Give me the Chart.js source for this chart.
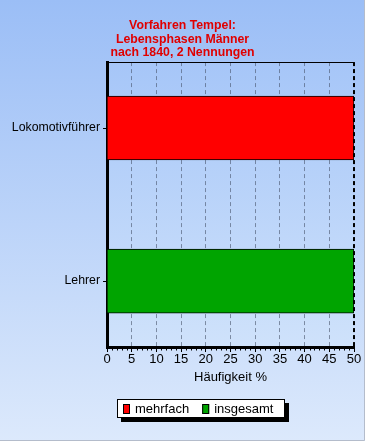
<!DOCTYPE html>
<html><head><meta charset="utf-8">
<script src="https://cdn.jsdelivr.net/npm/chart.js@4.4.0/dist/chart.umd.min.js"></script>
<style>html,body{margin:0;padding:0;overflow:hidden;background:#fff}#wrap{width:365px;height:441px;position:relative}</style>
</head><body><div id="wrap"><canvas id="c" width="365" height="441"></canvas></div>
<script>
const titleLines = ['Vorfahren Tempel:', 'Lebensphasen Männer', 'nach 1840, 2 Nennungen'];
const categories = ['Lokomotivführer', 'Lehrer'];
const seriesNames = ['mehrfach', 'insgesamt'];
const mehrfach = [50, null];
const insgesamt = [null, 50];
const xMin = 0, xMax = 50, xStep = 5;
const xTitle = 'Häufigkeit %';
const seriesColors = ['#ff0000', '#00a400'];

const FONT = "'Liberation Sans', Arial, sans-serif";

function toPoints(vals){
  return vals.map((v,i)=>({x:v, y:i})).filter(p=>p.x!==null);
}

const bgPlugin = {
  id:'bg',
  beforeDraw(chart){
    const {ctx, width, height} = chart;
    ctx.save();
    const g = ctx.createLinearGradient(0,0,0,height);
    g.addColorStop(0,'#9bbef6');
    g.addColorStop(1,'#dce9fc');
    ctx.fillStyle = g;
    ctx.fillRect(0,0,width,height);
    const a = chart.chartArea;
    const g2 = ctx.createLinearGradient(0,a.top,0,a.bottom);
    g2.addColorStop(0,'#a6c6f8');
    g2.addColorStop(1,'#cfe2fb');
    ctx.fillStyle = g2;
    ctx.fillRect(a.left,a.top,a.right-a.left,a.bottom-a.top);
    ctx.restore();
  },
  afterDraw(chart){
    const {ctx, width, height} = chart;
    const a = chart.chartArea;
    const xs = chart.scales.x;
    ctx.save();
    ctx.strokeStyle = '#000'; ctx.lineWidth = 1;
    ctx.beginPath(); ctx.moveTo(a.left, Math.round(a.top)+0.5); ctx.lineTo(a.right, Math.round(a.top)+0.5); ctx.stroke();
    ctx.setLineDash([4,3]);
    ctx.beginPath(); ctx.moveTo(Math.round(a.right)-0.5, a.top); ctx.lineTo(Math.round(a.right)-0.5, a.bottom); ctx.stroke();
    ctx.setLineDash([]);
    for (let v = xMin; v <= xMax; v++) {
      if (v % xStep === 0) continue;
      const px = Math.round(xs.getPixelForValue(v)) + 0.5;
      ctx.beginPath(); ctx.moveTo(px, a.bottom); ctx.lineTo(px, a.bottom+3.5); ctx.stroke();
    }
    ctx.font = '13px ' + FONT;
    ctx.textBaseline = 'middle';
    const ds = chart.data.datasets;
    let boxL = 117, boxT = 399, boxH = 19;
    let x = boxL + 6;
    const items = ds.map(d=>({label:d.label, color:d.backgroundColor, w:ctx.measureText(d.label).width}));
    let total = 6;
    items.forEach((it,i)=>{ total += 7 + 5 + it.w + (i<items.length-1?13:8); });
    const boxW = Math.max(total, 168);
    ctx.fillStyle = '#000';
    ctx.fillRect(boxL+4, boxT+4, boxW, boxH);
    ctx.fillStyle = '#fff';
    ctx.fillRect(boxL, boxT, boxW, boxH);
    ctx.strokeStyle = '#000'; ctx.lineWidth = 1;
    ctx.strokeRect(boxL+0.5, boxT+0.5, boxW-1, boxH-1);
    items.forEach((it,i)=>{
      ctx.fillStyle = it.color;
      ctx.fillRect(x, boxT+5, 7, 10);
      ctx.strokeRect(x+0.5, boxT+5.5, 6, 9);
      ctx.fillStyle = '#000';
      ctx.fillText(it.label, x+12, boxT+boxH/2+0.5);
      x += 7 + 5 + it.w + 13;
    });
    ctx.strokeStyle = '#b4bccb';
    ctx.beginPath(); ctx.moveTo(width-0.5,0); ctx.lineTo(width-0.5,height-0.5); ctx.lineTo(0,height-0.5); ctx.stroke();
    ctx.restore();
  }
};

new Chart(document.getElementById('c'), {
  type:'bar',
  data:{
    datasets:[
      {label:seriesNames[0], data:toPoints(mehrfach), backgroundColor:seriesColors[0], borderColor:'#000', borderWidth:1, barThickness:64, grouped:false},
      {label:seriesNames[1], data:toPoints(insgesamt), backgroundColor:seriesColors[1], borderColor:'#000', borderWidth:1, barThickness:64, grouped:false}
    ]
  },
  options:{
    indexAxis:'y',
    responsive:false,
    animation:false,
    devicePixelRatio:1,
    layout:{padding:{left:11,right:11,top:0,bottom:0}},
    plugins:{
      legend:{display:false},
      tooltip:{enabled:false},
      title:{display:true, text:titleLines, color:'#e00000',
        font:{family:FONT, size:12.3, weight:'bold', lineHeight:1.1},
        padding:{top:19,bottom:2.5}}
    },
    scales:{
      y:{
        type:'linear', reverse:true, min:-0.431, max:1.431, offset:false,
        afterBuildTicks(s){ s.ticks = categories.map((_,i)=>({value:i})); },
        afterFit(s){ s.width = 96; },
        ticks:{ color:'#000', font:{family:FONT,size:12.3}, padding:3, callback:(v)=>categories[v] },
        grid:{ offset:false, drawOnChartArea:false, tickLength:4, tickColor:'#000', color:'#000' },
        border:{ display:true, color:'#000', width:3 }
      },
      x:{
        type:'linear', min:xMin, max:xMax,
        afterFit(s){ s.height = 94; },
        ticks:{ stepSize:xStep, color:'#000', font:{family:FONT,size:13}, padding:0 },
        grid:{ color:(c)=> (c.tick && c.tick.value===xMax) ? '#000' : 'rgba(70,82,105,0.6)', tickBorderDash:[1,0], tickColor:'#000', tickLength:5 },
        border:{ display:true, color:'#000', width:3, dash:[4,3] },
        title:{ display:true, text:xTitle, color:'#000', font:{family:FONT,size:13}, padding:{top:0,bottom:56} }
      }
    }
  },
  plugins:[bgPlugin]
});
</script></body></html>
